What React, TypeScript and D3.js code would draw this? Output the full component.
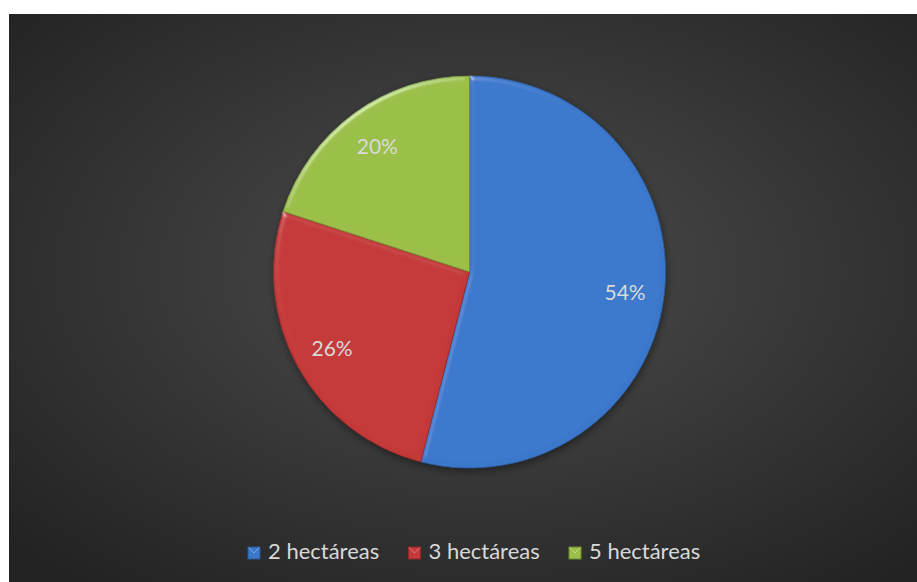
import React from "react";
import * as d3 from "d3";

const categories = ["2 hectáreas", "3 hectáreas", "5 hectáreas"];
const values = [54, 26, 20];
const labels = ["54%", "26%", "20%"];
const colors = ["#3b78cc", "#c43939", "#9bbf48"];
const darkColors = ["#2a5896", "#8f2929", "#6f8a32"];

export default function App() {
  const W = 917, H = 582;
  const cx = 469.5, cy = 272, r = 196;
  const pie = d3.pie<number>().sort(null).value((d) => d)(values);
  const arc = d3.arc<d3.PieArcDatum<number>>().innerRadius(0).outerRadius(r);
  const labelArc = d3.arc<d3.PieArcDatum<number>>().innerRadius(r * 0.8).outerRadius(r * 0.8);

  const legendX = d3.scalePoint<string>().domain(categories).range([248, 569]);

  return (
    <svg width={W} height={H} style={{ position: "absolute", left: 0, top: 0 }}>
      <defs>
        <radialGradient id="bg" cx="52%" cy="45%" r="70%">
          <stop offset="0%" stopColor="#4d4d4d" />
          <stop offset="100%" stopColor="#232323" />
        </radialGradient>
        <filter id="bevel" x="-10%" y="-10%" width="120%" height="120%">
          <feGaussianBlur in="SourceAlpha" stdDeviation="2.5" result="blur" />
          <feSpecularLighting in="blur" surfaceScale="3" specularConstant="0.7" specularExponent="30" lightingColor="#ffffff" result="spec">
            <feDistantLight azimuth="235" elevation="30" />
          </feSpecularLighting>
          <feComposite in="spec" in2="SourceAlpha" operator="in" result="specIn" />
          <feComposite in="SourceGraphic" in2="specIn" operator="arithmetic" k1="0" k2="1" k3="0.45" k4="0" />
        </filter>
        <filter id="shadow" x="-20%" y="-20%" width="140%" height="140%">
          <feDropShadow dx="1" dy="3" stdDeviation="4" floodColor="#000" floodOpacity="0.45" />
        </filter>
      </defs>
      <rect x={9} y={14} width={W - 9} height={H - 14} fill="url(#bg)" />
      <g transform={`translate(${cx},${cy})`}>
        <g filter="url(#shadow)">
          {pie.map((p, i) => (
            <path key={"s" + i} d={arc(p) || ""} fill={colors[i]} />
          ))}
        </g>
        {pie.map((p, i) => (
          <path key={i} d={arc(p) || ""} fill={colors[i]} stroke={darkColors[i]} strokeWidth={0.8} filter="url(#bevel)" />
        ))}
        {pie.map((p, i) => {
          const [lx, ly] = labelArc.centroid(p);
          return (
            <text key={"l" + i} x={lx} y={ly} textAnchor="middle" dominantBaseline="central"
              fill="#d9d9d9" fontFamily="Lato, 'Open Sans', sans-serif" fontSize={21}>
              {labels[i]}
            </text>
          );
        })}
      </g>
      <g>
        {categories.map((c, i) => {
          const x = legendX(c) as number;
          return (
            <g key={c} transform={`translate(${x},547)`}>
              <rect x={0} y={0} width={12} height={12} fill={colors[i]} stroke={darkColors[i]} strokeWidth={1} />
              <path d="M0.5,0.5 L6,6 L11.5,0.5" fill="none" stroke="#ffffff" strokeOpacity={0.35} strokeWidth={1} />
              <text x={20} y={12} fill="#d9d9d9" fontFamily="Lato, 'Open Sans', sans-serif" fontSize={22}>
                {c}
              </text>
            </g>
          );
        })}
      </g>
    </svg>
  );
}
